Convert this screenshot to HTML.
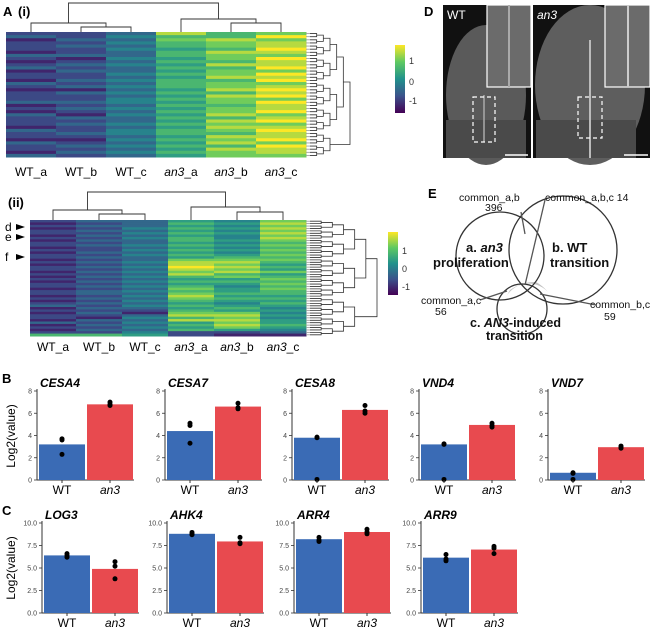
<!DOCTYPE html>
<html><head><meta charset="utf-8"><style>
html,body{margin:0;padding:0;background:#fff}
svg{display:block;font-family:"Liberation Sans",Arial,sans-serif}
</style></head><body>
<svg id="fig" width="652" height="630" viewBox="0 0 652 630" xmlns="http://www.w3.org/2000/svg">
<g>
<text x="3" y="16" font-size="13" font-weight="bold">A</text>
<text x="18" y="16" font-size="13" font-weight="bold">(i)</text>
<text x="8" y="207" font-size="13" font-weight="bold">(ii)</text>
<text x="2" y="383" font-size="13" font-weight="bold">B</text>
<text x="2" y="515" font-size="13" font-weight="bold">C</text>
<text x="424" y="16" font-size="13" font-weight="bold">D</text>
<text x="428" y="198" font-size="13" font-weight="bold">E</text>
</g>
<g id="heat1"></g>
<g id="heat2"></g>
<g id="panelD">
<rect x="443" y="5" width="88" height="153" fill="#111"/>
<ellipse cx="486" cy="95" rx="40" ry="70" fill="#5a5a5a"/>
<rect x="446" y="120" width="80" height="38" fill="#4a4a4a"/>
<line x1="484" y1="95" x2="484" y2="142" stroke="#aaa" stroke-width="1.5"/>
<rect x="473" y="97" width="22" height="45" fill="none" stroke="#fff" stroke-width="1.2" stroke-dasharray="4,3"/>
<rect x="487" y="5" width="44" height="82" fill="#6b6b6b" stroke="#fff" stroke-width="1.2"/>
<line x1="509" y1="5" x2="509" y2="87" stroke="#aaa" stroke-width="2"/>
<line x1="505" y1="155" x2="528" y2="155" stroke="#fff" stroke-width="1.5"/>
<text x="447" y="19" font-size="12" fill="#fff">WT</text>
<rect x="533" y="5" width="117" height="153" fill="#111"/>
<ellipse cx="590" cy="85" rx="55" ry="80" fill="#5e5e5e"/>
<rect x="536" y="120" width="100" height="38" fill="#4a4a4a"/>
<line x1="590" y1="40" x2="590" y2="158" stroke="#bbb" stroke-width="2"/>
<rect x="578" y="97" width="24" height="41" fill="none" stroke="#fff" stroke-width="1.2" stroke-dasharray="4,3"/>
<rect x="605" y="5" width="45" height="82" fill="#6b6b6b" stroke="#fff" stroke-width="1.2"/>
<line x1="628" y1="5" x2="628" y2="87" stroke="#ccc" stroke-width="2"/>
<line x1="624" y1="155" x2="648" y2="155" stroke="#fff" stroke-width="1.5"/>
<text x="537" y="19" font-size="12" fill="#fff" font-style="italic">an3</text>
</g>
<g id="panelE" fill="none" stroke="#333" stroke-width="1.3">
<path d="M 505 299 A 26 26 0 0 1 548 292 A 44 44 0 0 0 536 282 A 44 44 0 0 0 510 290 Z" fill="#999" stroke="none" opacity="0.6"/>
<circle cx="500" cy="256" r="44"/>
<circle cx="563" cy="250" r="54"/>
<circle cx="522" cy="309" r="25"/>
<line x1="521" y1="212" x2="525" y2="234" stroke="#555"/>
<line x1="545" y1="200" x2="525" y2="285" stroke="#555"/>
<line x1="480" y1="300" x2="507" y2="291" stroke="#555"/>
<line x1="596" y1="305" x2="540" y2="294" stroke="#555"/>
<g stroke="none" fill="#111">
<text x="459" y="201" font-size="10.5">common_a,b</text>
<text x="485" y="211" font-size="10.5">396</text>
<text x="545" y="201" font-size="10.5">common_a,b,c 14</text>
<text x="466" y="252" font-size="13" font-weight="bold">a. <tspan font-style="italic">an3</tspan></text>
<text x="433" y="267" font-size="13" font-weight="bold">proliferation</text>
<text x="552" y="252" font-size="13" font-weight="bold">b. WT</text>
<text x="550" y="267" font-size="13" font-weight="bold">transition</text>
<text x="421" y="304" font-size="10.5">common_a,c</text>
<text x="435" y="315" font-size="10.5">56</text>
<text x="590" y="308" font-size="10.5">common_b,c</text>
<text x="604" y="320" font-size="10.5">59</text>
<text x="470" y="327" font-size="12.5" font-weight="bold">c. <tspan font-style="italic">AN3</tspan>-induced</text>
<text x="486" y="340" font-size="12.5" font-weight="bold">transition</text>
</g>
</g>
<g id="bars"></g>
</svg>
<script>
// ---------- heatmap data (digit 0..9 mapped to -1.5..1.5) ----------
const heat1Cols = ["WT_a","WT_b","WT_c","an3_a","an3_b","an3_c"];
const heat1Data = [
"2312221321231221321222312132221322132213",
"2232322312323223231322323213232232123232",
"3434343343433434343434434343343443434343",
"8676656656565656665656565656565665656565",
"6687768776867786778687767786878768786877",
"7978898798897989789897988978978988979887"];
const heat2Cols = ["WT_a","WT_b","WT_c","an3_a","an3_b","an3_c"];
const heat2Data = [
"212122121221212212122121212212212123121221312126",
"323232323232232323232323232323323232323213232326",
"333434343343434334343434343434343434321343434345",
"565656566565656578898786565676787656567868565622",
"454545445454545678787867565455656545657878787521",
"787878787676767676565756767676656565454545565431"];
const cbTicks = ["1","0","-1"];

// ---------- bar chart data ----------
const genesB = ["CESA4","CESA7","CESA8","VND4","VND7"];
const wtB = [3.2,4.4,3.8,3.2,0.65];
const an3B = [6.8,6.6,6.3,4.95,2.95];
const wtDotsB = [[3.7,3.6,2.3],[5.1,4.9,3.3],[3.85,3.8,0.05],[3.25,3.2,0.05],[0.65,0.6,0.05]];
const an3DotsB = [[7.0,6.8,6.7],[6.9,6.5,6.4],[6.7,6.2,6.0],[5.1,4.9,4.75],[3.05,2.95,2.85]];
const ticksB = [0,2,4,6,8];
const genesC = ["LOG3","AHK4","ARR4","ARR9"];
const wtC = [6.4,8.8,8.2,6.15];
const an3C = [4.9,7.95,9.0,7.05];
const wtDotsC = [[6.6,6.4,6.2],[8.95,8.8,8.7],[8.4,8.1,7.95],[6.5,6.0,5.8]];
const an3DotsC = [[5.7,5.2,3.8],[8.4,7.8,7.7],[9.3,9.0,8.8],[7.4,7.2,6.6]];
const ticksC = [0,2.5,5,7.5,10];
const groups = ["WT","an3"];

const NS="http://www.w3.org/2000/svg";
function mk(parent,tag,attrs){const e=document.createElementNS(NS,tag);for(const k in attrs)e.setAttribute(k,attrs[k]);parent.appendChild(e);return e;}
const stops=[[68,1,84],[59,82,139],[33,145,140],[94,201,98],[253,231,37]];
function viridis(t){t=Math.max(0,Math.min(1,t));const p=t*4,i=Math.min(3,Math.floor(p)),f=p-i;const a=stops[i],b=stops[i+1];return `rgb(${Math.round(a[0]+(b[0]-a[0])*f)},${Math.round(a[1]+(b[1]-a[1])*f)},${Math.round(a[2]+(b[2]-a[2])*f)})`;}

function rightDendro(g,x0,y0,h,n,w){
  let nodes=[];for(let i=0;i<n;i++)nodes.push({y:y0+(i+0.5)*h/n,x:x0+4});
  for(const nd of nodes){mk(g,'line',{x1:x0,y1:nd.y,x2:nd.x,y2:nd.y,stroke:'#999','stroke-width':0.8});}
  let level=1;const L=Math.ceil(Math.log2(n));
  while(nodes.length>1){
    const next=[];
    for(let i=0;i<nodes.length;i+=2){
      if(i+1>=nodes.length){next.push(nodes[i]);continue;}
      const a=nodes[i],b=nodes[i+1];const x=x0+4+level*(w-4)/L;
      mk(g,'path',{d:`M${a.x},${a.y}H${x}V${b.y}H${b.x}`,fill:'none',stroke:'#333','stroke-width':0.8});
      next.push({x:x,y:(a.y+b.y)/2});
    }
    nodes=next;level++;
  }
}
function heatmap(gid,cols,data,x0,x1,y0,y1,labY,cb,dendroTop,dw){
  const g=document.getElementById(gid);
  const nc=cols.length,nr=data[0].length,cw=(x1-x0)/nc,rh=(y1-y0)/nr;
  cols.forEach((c,ci)=>{
    for(let r=0;r<nr;r++){
      const v=+data[ci][r];
      const rc=mk(g,'rect',{x:x0+ci*cw,y:y0+r*rh,width:cw+0.5,height:rh+0.5,fill:viridis(v/9)});
      
      
    }
    const parts=c.split('_');
    const t=mk(g,'text',{x:x0+(ci+0.5)*cw,y:labY,'font-size':12,'text-anchor':'middle'});
    
    
    const s1=mk(t,'tspan',{'font-style':parts[0]==='an3'?'italic':'normal'});s1.textContent=parts[0];
    const s2=mk(t,'tspan',{});s2.textContent='_'+parts[1];
  });
  rightDendro(g,x1,y0,y1-y0,nr,dw);
  const gr=mk(g,'defs',{});const lg=mk(gr,'linearGradient',{id:gid+'grad',x1:0,y1:1,x2:0,y2:0});
  stops.forEach((s,i)=>mk(lg,'stop',{offset:i/4,'stop-color':`rgb(${s})`}));
  const cbr=mk(g,'rect',{x:cb.x,y:cb.y0,width:10,height:cb.y1-cb.y0,fill:`url(#${gid}grad)`});
  
  
  cbTicks.forEach((tk,i)=>{const t=mk(g,'text',{x:cb.x+14,y:cb.ty[i]+3,'font-size':9,fill:'#333'});t.textContent=tk;
    
    });
  const cx=i=>x0+(i+0.5)*cw;const D=dendroTop;
  const p=(a,ya,b,yb,yj)=>mk(g,'path',{d:`M${a},${ya}V${yj}H${b}V${yb}`,fill:'none',stroke:'#333','stroke-width':0.9});
  const m12=(cx(1)+cx(2))/2, m45=(cx(4)+cx(5))/2;
  p(cx(1),y0,cx(2),y0,D[0]);
  p(cx(0),y0,m12,D[0],D[1]);
  p(cx(4),y0,cx(5),y0,D[2]);
  p(cx(3),y0,m45,D[2],D[3]);
  p((cx(0)+m12)/2,D[1],(cx(3)+m45)/2,D[3],D[4]);
}
heatmap('heat1',heat1Cols,heat1Data,6,306,32,157,176,{x:395,y0:45,y1:113,ty:[61,82,101]},[27,23,23,19,3],44);
heatmap('heat2',heat2Cols,heat2Data,30,306,220,336,351,{x:388,y0:232,y1:295,ty:[251,269,287]},[214,210,212,207,192],71);
(function(){const g=document.getElementById('heat2');
 [['d',227],['e',237],['f',257]].forEach(([l,y])=>{const t=mk(g,'text',{x:5,y:y+4,'font-size':12});t.textContent=l;
  
  
  mk(g,'path',{d:`M16,${y-3}L25,${y}L16,${y+3}Z`,fill:'#000'});});})();

function barChart(ax,top,zero,maxV,ticks,fmt,title,wv,av,wd,ad){
  const g=mk(document.getElementById('bars'),'g',{});
  
  
  const y=v=>zero-(v/maxV)*(zero-top);
  mk(g,'line',{x1:ax,y1:top-2,x2:ax,y2:zero,stroke:'#333','stroke-width':1});
  mk(g,'line',{x1:ax,y1:zero,x2:ax+97,y2:zero,stroke:'#333','stroke-width':1});
  ticks.forEach(t=>{mk(g,'line',{x1:ax-3,y1:y(t),x2:ax,y2:y(t),stroke:'#333','stroke-width':0.8});
    const tx=mk(g,'text',{x:ax-5,y:y(t)+2.5,'font-size':7,'text-anchor':'end',fill:'#444'});tx.textContent=fmt(t);
    
    });
  const bw=46,cols=['#3a6bb5','#e84a4f'],vals=[wv,av],dots=[wd,ad];
  groups.forEach((gn,i)=>{
    const bx=ax+2+i*48;
    const b=mk(g,'rect',{x:bx,y:y(vals[i]),width:bw,height:zero-y(vals[i]),fill:cols[i]});
    
    
    dots[i].forEach(d=>{const c=mk(g,'circle',{cx:bx+bw/2,cy:y(d),r:2.5,fill:'#000'});
      
      });
    mk(g,'line',{x1:bx+bw/2,y1:zero,x2:bx+bw/2,y2:zero+3,stroke:'#333'});
    const t=mk(g,'text',{x:bx+bw/2,y:zero+14,'font-size':12,'text-anchor':'middle','font-style':i?'italic':'normal'});t.textContent=gn;
    
    
  });
  const tt=mk(g,'text',{x:ax+3,y:top-4,'font-size':12,'font-weight':'bold','font-style':'italic'});tt.textContent=title;
  
  
}
const axB=[37,165,292,419,548], axC=[42,167,294,421];
genesB.forEach((gname,i)=>barChart(axB[i],391,480,8,ticksB,t=>String(t),gname,wtB[i],an3B[i],wtDotsB[i],an3DotsB[i]));
genesC.forEach((gname,i)=>barChart(axC[i],523,613,10,ticksC,t=>t.toFixed(1),gname,wtC[i],an3C[i],wtDotsC[i],an3DotsC[i]));
(function(){const g=document.getElementById('bars');
 [[436],[568]].forEach(([cy])=>{const t=mk(g,'text',{x:0,y:0,'font-size':12,'text-anchor':'middle',transform:`translate(15,${cy}) rotate(-90)`});t.textContent='Log2(value)';
  
  });})();
</script>
</body></html>
